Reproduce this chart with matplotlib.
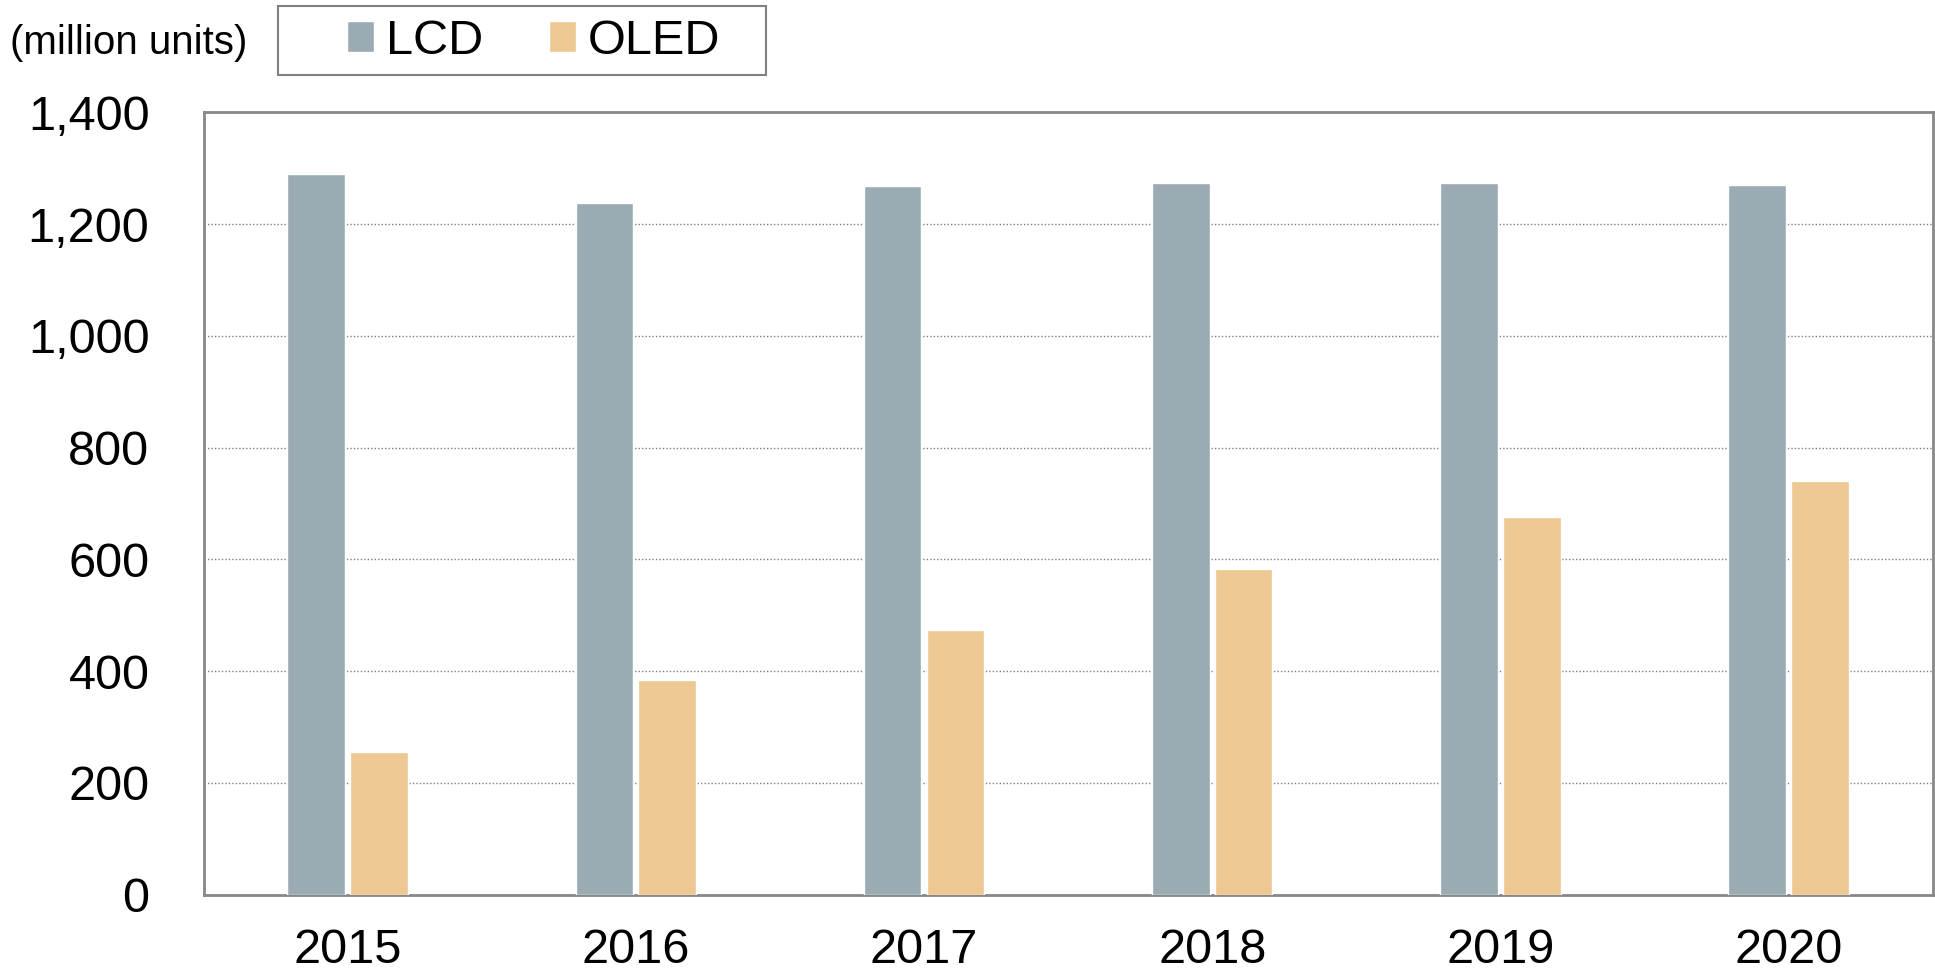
import matplotlib
matplotlib.use('Agg')
import matplotlib.pyplot as plt
from matplotlib.patches import Rectangle
import numpy as np

years = ['2015', '2016', '2017', '2018', '2019', '2020']
lcd = [1290, 1237, 1268, 1274, 1273, 1270]
oled = [256, 384, 473, 583, 676, 741]
yticks = [0, 200, 400, 600, 800, 1000, 1200, 1400]

plt.rcParams['font.family'] = ['Liberation Sans', 'DejaVu Sans']

W, H = 1935, 973
fig = plt.figure(figsize=(19.35, 9.73), dpi=100)
ax = fig.add_axes([0.1052, 0.0805, 0.8936, 0.8041])

x = np.arange(len(years))
w = 0.2
ax.bar(x - 0.109, lcd, w, color='#9BABB3', edgecolor='white', linewidth=1, label='LCD', zorder=3)
ax.bar(x + 0.109, oled, w, color='#EDC892', edgecolor='white', linewidth=1, label='OLED', zorder=3)

ax.set_xlim(-0.5, len(years) - 0.5)
ax.set_ylim(0, 1400)
ax.set_yticks(yticks)
ax.set_yticklabels([f'{v:,}' for v in yticks])
ax.set_xticks(x)
ax.set_xticklabels(years)
ax.tick_params(axis='y', length=0, pad=39, labelsize=35)
ax.tick_params(axis='x', length=0, pad=24, labelsize=35)
ax.yaxis.grid(True, linestyle=(0, (1, 1.5)), color='#808080', linewidth=1, zorder=0)
for s in ax.spines.values():
    s.set_color('#888888')
    s.set_linewidth(2)

fig.text(10 / W, 1 - 43 / H, '(million units)', fontsize=29, va='center', ha='left')

# legend frame drawn separately so the padding can be wider than tall
fig.patches.append(Rectangle((278 / W, 1 - 75 / H), 488 / W, 69 / H, transform=fig.transFigure,
                             facecolor='white', edgecolor='#808080', linewidth=1.5))
leg = fig.legend(loc='center left', bbox_to_anchor=(347 / W, 1 - 41 / H), ncol=2,
                 fontsize=35, frameon=False,
                 handlelength=0.55, handleheight=0.6, handletextpad=0.25,
                 columnspacing=1.35, borderpad=0, borderaxespad=0)

fig.savefig('out.png', dpi=100)
